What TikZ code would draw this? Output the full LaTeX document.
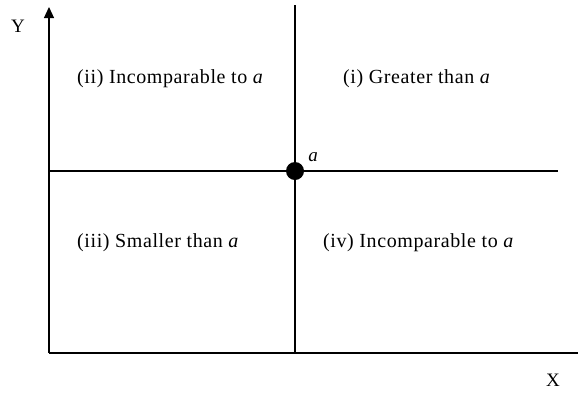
\documentclass[tikz,border=0pt]{standalone}
\usepackage{fontspec}
\setmainfont{Liberation Serif}
\usetikzlibrary{arrows.meta}
\tikzset{
  axis/.style={line width=1.2pt, black},
  region/.style={anchor=west, inner sep=0pt, font=\fontsize{20}{24}\selectfont\addfontfeature{LetterSpace=3}},
  axlabel/.style={inner sep=0pt, font=\fontsize{19}{22}\selectfont},
  pointdot/.style={circle, fill=black, minimum size=18pt, inner sep=0pt}
}
\begin{document}
\begin{tikzpicture}[x={(1pt,0)}, y={(0,-1pt)}]
\useasboundingbox (0,0) rectangle (578,392);
% axes
\coordinate (O) at (49,353);
\coordinate (ytop) at (49,7);
\coordinate (xend) at (578,353);
\coordinate (vtop) at (295,5);
\coordinate (vbot) at (295,353);
\coordinate (hl) at (49,171);
\coordinate (hr) at (558,171);
\draw[axis, -{Triangle[length=11pt,width=10pt]}] (O) -- (ytop);
\draw[axis] (O) -- (xend);
\draw[axis] (vtop) -- (vbot);
\draw[axis] (hl) -- (hr);
\node[pointdot] (a) at (295,171) {};
\node[axlabel] (alabel) at (313,157) {\textit{a}};
\node[axlabel] (ylab) at (18,26) {Y};
\node[axlabel] (xlab) at (553,380) {X};
\node[region] (q2) at (77,79) {(ii) Incomparable to \textit{a}};
\node[region] (q1) at (343,79) {(i) Greater than \textit{a}};
\node[region] (q3) at (77,243) {(iii) Smaller than \textit{a}};
\node[region] (q4) at (323,243) {(iv) Incomparable to \textit{a}};
\end{tikzpicture}
\end{document}
